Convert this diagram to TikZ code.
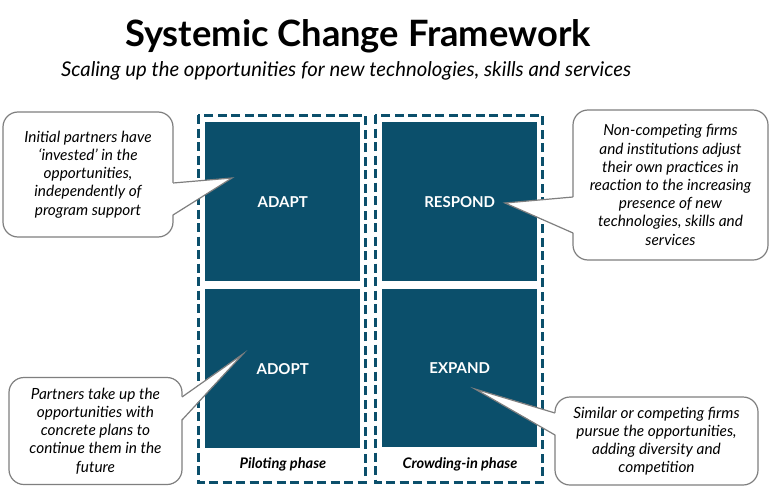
\documentclass[tikz,border=0pt]{standalone}
\usepackage{fontspec}
\setmainfont{Lato}
\usetikzlibrary{calc}
\definecolor{tealA}{HTML}{0B4F6B}
\definecolor{cgray}{HTML}{7F7F7F}
\begin{document}
\begin{tikzpicture}[x=1pt,y=-1pt,
  sq/.style={fill=tealA, draw=none, minimum width=155pt, minimum height=159pt, inner sep=0pt, text=white, font=\fontsize{15}{17}\selectfont\bfseries, anchor=north west},
  phasebox/.style={draw=tealA, line width=3pt, dash pattern=on 9pt off 4.5pt},
  callout/.style={draw=cgray, line width=1.2pt, fill=white, rounded corners=15pt, inner sep=0pt, align=center, font=\fontsize{15.4}{18.2}\selectfont\itshape},
  ptr/.style={draw=cgray, line width=1.2pt, line join=miter},
  phase/.style={font=\fontsize{14.6}{16}\selectfont\bfseries\itshape}
]
\useasboundingbox[fill=white] (0,0) rectangle (770,487);
% title
\node[anchor=base, inner sep=0pt, font=\fontsize{36.3}{42}\selectfont\bfseries] (title) at (358,46) {Systemic Change Framework};
\node[anchor=base, inner sep=0pt, font=\fontsize{20.3}{24}\selectfont\itshape] (subtitle) at (346,76) {Scaling up the opportunities for new technologies, skills and services};
% phase boxes
\draw[phasebox] (198,115) rectangle (365,482);
\draw[phasebox] (375,115) rectangle (542,482);
% squares
\node[sq] (adapt) at (205,122) {ADAPT};
\node[sq] (adopt) at (205,289) {ADOPT};
\node[sq] (respond) at (382,122) {RESPOND};
\node[sq, minimum height=158pt] (expand) at (382,289) {EXPAND};
% phase labels
\node[phase] (pilot) at (283,464) {Piloting phase};
\node[phase] (crowd) at (460,464) {Crowding-in phase};
% callouts
\node[callout, minimum width=170pt, minimum height=125pt] (c1) at (88,174.5) {Initial partners have\\ ‘invested’ in the\\ opportunities,\\ independently of\\ program support};
\node[callout, minimum width=195pt, minimum height=150pt] (c2) at (670.5,185) {Non-competing firms\\ and institutions adjust\\ their own practices in\\ reaction to the increasing\\ presence of new\\ technologies, skills and\\ services};
\node[callout, minimum width=173pt, minimum height=107pt] (c3) at (95.5,431) {Partners take up the\\ opportunities with\\ concrete plans to\\ continue them in the\\ future};
\node[callout, minimum width=203pt, minimum height=88pt] (c4) at (656.5,441) {Similar or competing firms\\ pursue the opportunities,\\ adding diversity and\\ competition};
% pointer coordinates
\coordinate (t1) at (232,178);
\coordinate (t2) at (505,203);
\coordinate (t3) at (243,354);
\coordinate (t4) at (475,389);
\coordinate (a1) at (173,183); \coordinate (b1) at (173,215);
\coordinate (a2) at (573,197); \coordinate (b2) at (573,233);
\coordinate (a3) at (182,397); \coordinate (b3) at (182,420);
\coordinate (a4) at (555,413); \coordinate (b4) at (555,435);
% pointers
\fill[white] ($(a1)+(-1,0)$) -- (t1) -- ($(b1)+(-1,0)$) -- cycle;
\draw[ptr] (a1) -- (t1) -- (b1);
\fill[white] ($(a2)+(1,0)$) -- (t2) -- ($(b2)+(1,0)$) -- cycle;
\draw[ptr] (a2) -- (t2) -- (b2);
\fill[white] ($(a3)+(-1,0)$) -- (t3) -- ($(b3)+(-1,0)$) -- cycle;
\draw[ptr] (a3) -- (t3) -- (b3);
\fill[white] ($(a4)+(1,0)$) -- (t4) -- ($(b4)+(1,0)$) -- cycle;
\draw[ptr] (a4) -- (t4) -- (b4);
\end{tikzpicture}
\end{document}
